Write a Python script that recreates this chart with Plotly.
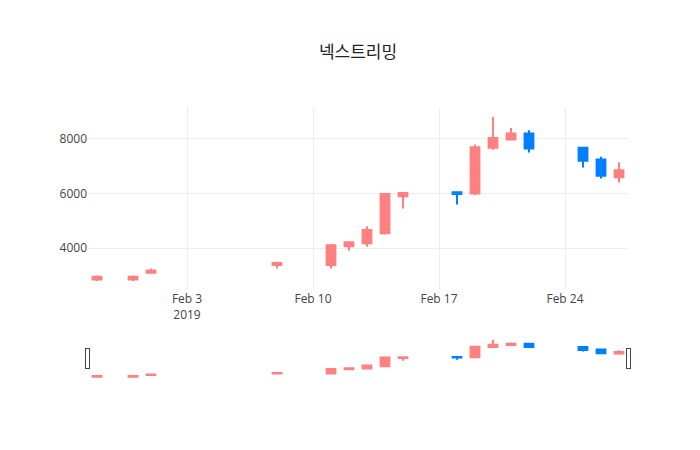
import plotly.graph_objects as go

dates = ['2019-01-29', '2019-01-31', '2019-02-01', '2019-02-08', '2019-02-11',
         '2019-02-12', '2019-02-13', '2019-02-14', '2019-02-15', '2019-02-18',
         '2019-02-19', '2019-02-20', '2019-02-21', '2019-02-22', '2019-02-25',
         '2019-02-26', '2019-02-27']
opens = [2850, 2850, 3100, 3380, 3380, 4070, 4180, 4550, 5900, 6050,
         6000, 7680, 7980, 8200, 7680, 7250, 6600]
highs = [3000, 3000, 3250, 3500, 4150, 4230, 4800, 5980, 6050, 6050,
         7800, 8800, 8400, 8320, 7700, 7350, 7150]
lows = [2800, 2800, 3080, 3250, 3250, 3900, 4050, 4500, 5450, 5600,
        5950, 7600, 7950, 7500, 6950, 6550, 6400]
closes = [2950, 2950, 3180, 3460, 4110, 4220, 4660, 5980, 6020, 5980,
          7700, 8030, 8200, 7650, 7200, 6650, 6850]

fig = go.Figure(go.Candlestick(
    x=dates, open=opens, high=highs, low=lows, close=closes,
    increasing=dict(line=dict(color='rgb(255,128,128)'), fillcolor='rgb(255,128,128)'),
    decreasing=dict(line=dict(color='rgb(0,128,255)'), fillcolor='rgb(0,128,255)'),
))
fig.update_layout(
    title=dict(text='넥스트리밍', x=0.5,
               font=dict(family='Noto Sans CJK KR', size=17, color='#222')),
    font=dict(family='Open Sans', color='#444'),
    width=700, height=450,
    showlegend=False,
    plot_bgcolor='white',
    xaxis=dict(rangeslider=dict(visible=True), gridcolor='#eee'),
    yaxis=dict(gridcolor='#eee'),
)
fig.write_html('out.html')
